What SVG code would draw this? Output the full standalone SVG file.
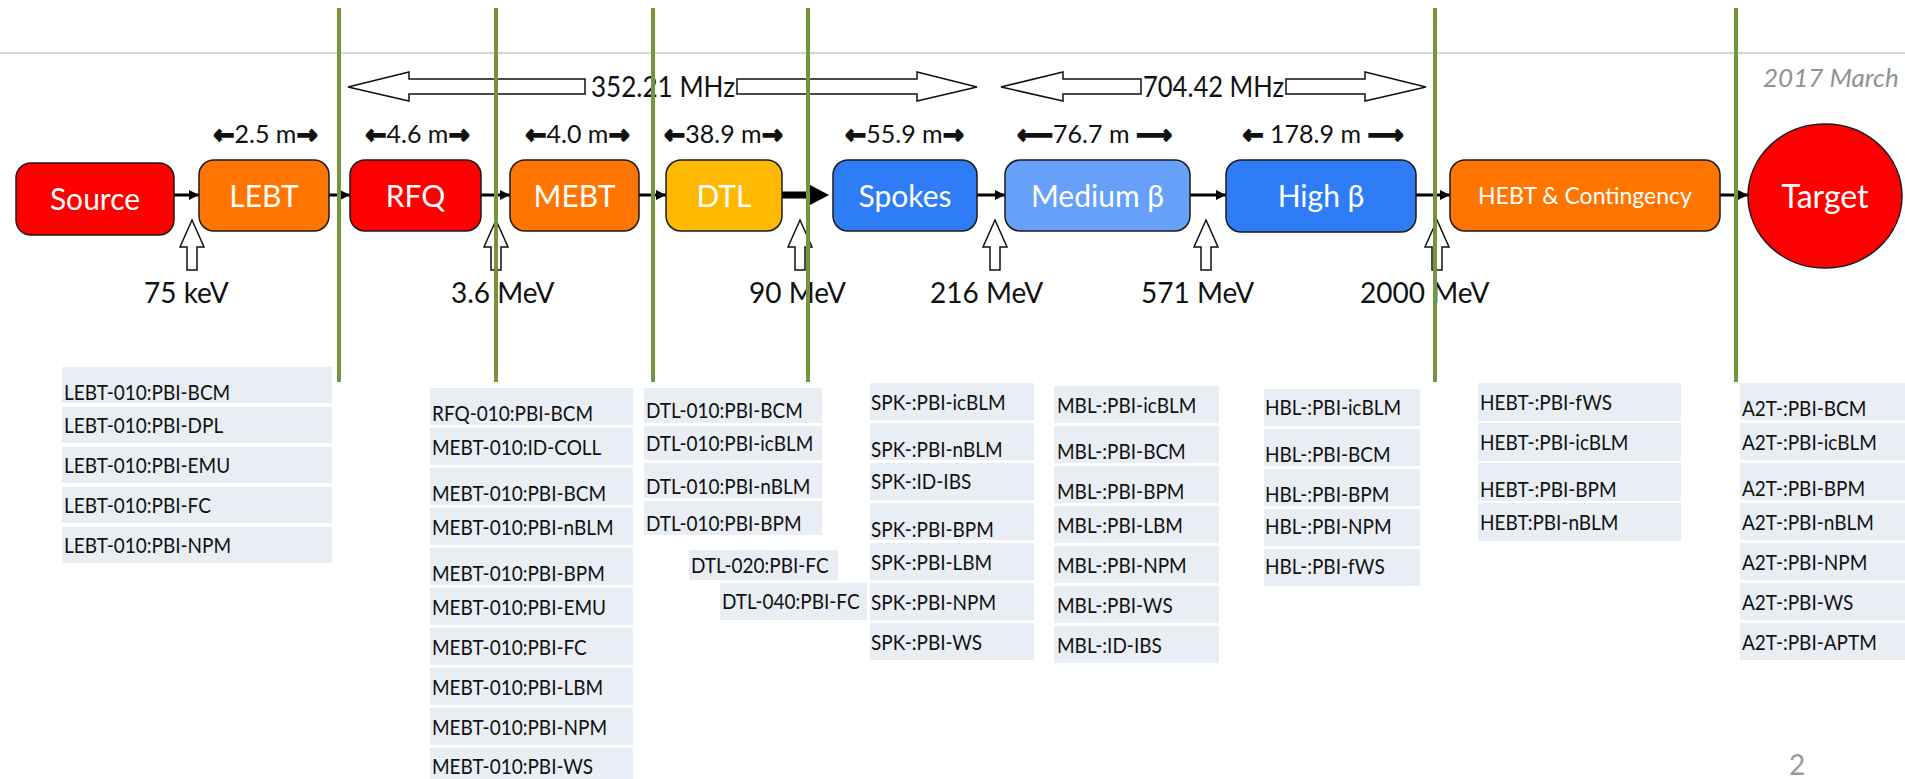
<svg xmlns="http://www.w3.org/2000/svg" width="1905" height="779" viewBox="0 0 1905 779">
<defs>
<style>
.box{stroke:#1a1a1a;stroke-width:1.5}
.bt{font-family:Lato,"Liberation Sans",sans-serif;fill:#fff;text-anchor:middle;font-size:30px}
.lbl{font-family:Lato,"Liberation Sans",sans-serif;fill:#111;font-size:28px}
.dim{font-family:Lato,"Liberation Sans",sans-serif;fill:#111;font-size:25px;text-anchor:middle}
.ar{font-family:"DejaVu Sans",sans-serif;font-weight:bold;stroke:#111;stroke-width:1.6}
.hollow{fill:#fff;stroke:#111;stroke-width:1.5}
.conn{stroke:#000;stroke-width:3;fill:none}
.cell{fill:#E9EDF4}
.ct{font-family:Lato,"Liberation Sans",sans-serif;fill:#111;font-size:19px;transform-box:fill-box;transform-origin:0 78%;transform:scaleY(1.12)}
.green{stroke:#77933C;stroke-width:4}
.red{fill:#FF0000}.orange{fill:#FF7500}.yellow{fill:#FFB900}.blue{fill:#2E7DF7}.lblue{fill:#66A0F8}
</style>
<marker id="ah" markerUnits="userSpaceOnUse" viewBox="0 0 10 10" refX="10" refY="5" markerWidth="10" markerHeight="10" orient="auto">
<path d="M0,0 L10,5 L0,10 z" fill="#000"/>
</marker>
</defs>
<rect width="1905" height="779" fill="#fff"/>
<line x1="0" y1="53" x2="1905" y2="53" stroke="#c8c8c8" stroke-width="1.5"/>
<text x="1763" y="87" font-family="Lato,'Liberation Sans',sans-serif" font-style="italic" font-size="26" fill="#8c9494">2017 March</text>
<text x="1789" y="775" font-family="Lato,'Liberation Sans',sans-serif" font-size="28" fill="#9a9a9a">2</text>

<!-- frequency arrows -->
<g id="freq352">
<polygon class="hollow" points="348,87 409,72 409,79 585,79 585,94 409,94 409,101"/>
<text class="lbl" x="591" y="97" textLength="144" lengthAdjust="spacingAndGlyphs">352.21 MHz</text>
<polygon class="hollow" points="977,87 917,72 917,79 737,79 737,94 917,94 917,101"/>
</g>
<g id="freq704">
<polygon class="hollow" points="1001,87 1063,72 1063,79 1141,79 1141,94 1063,94 1063,101"/>
<text class="lbl" x="1143" y="97" textLength="141" lengthAdjust="spacingAndGlyphs">704.42 MHz</text>
<polygon class="hollow" points="1426,87 1365,72 1365,79 1286,79 1286,94 1365,94 1365,101"/>
</g>

<!-- dimension labels -->
<g id="dims">
<text class="dim" x="265.5" y="143"><tspan class="ar">←</tspan>2.5 m<tspan class="ar">→</tspan></text>
<text class="dim" x="417.5" y="143"><tspan class="ar">←</tspan>4.6 m<tspan class="ar">→</tspan></text>
<text class="dim" x="577.5" y="143"><tspan class="ar">←</tspan>4.0 m<tspan class="ar">→</tspan></text>
<text class="dim" x="723.5" y="143"><tspan class="ar">←</tspan>38.9 m<tspan class="ar">→</tspan></text>
<text class="dim" x="904.5" y="143"><tspan class="ar">←</tspan>55.9 m<tspan class="ar">→</tspan></text>
<text class="dim" x="1094.5" y="143"><tspan class="ar">⟵</tspan>76.7 m <tspan class="ar">⟶</tspan></text>
<text class="dim" x="1323" y="143"><tspan class="ar">←</tspan> 178.9 m <tspan class="ar">⟶</tspan></text>
</g>

<!-- connectors -->
<g id="connectors">
<line class="conn" x1="174" y1="195" x2="199" y2="195" marker-end="url(#ah)"/>
<line class="conn" x1="329" y1="195" x2="350" y2="195" marker-end="url(#ah)"/>
<line class="conn" x1="481" y1="195" x2="510" y2="195" marker-end="url(#ah)"/>
<line class="conn" x1="639" y1="195" x2="666" y2="195" marker-end="url(#ah)"/>
<line x1="782" y1="195" x2="812" y2="195" stroke="#000" stroke-width="7"/>
<polygon points="810,185 829,195 810,205" fill="#000"/>
<line class="conn" x1="977" y1="195" x2="1005" y2="195" marker-end="url(#ah)"/>
<line class="conn" x1="1190" y1="195" x2="1226" y2="195" marker-end="url(#ah)"/>
<line class="conn" x1="1416" y1="195" x2="1450" y2="195" marker-end="url(#ah)"/>
<line class="conn" x1="1720" y1="195" x2="1748" y2="195" marker-end="url(#ah)"/>
</g>

<!-- nodes -->
<g id="source"><rect class="box red" x="16" y="163" width="158" height="72" rx="15"/><text class="bt" x="95" y="210">Source</text></g>
<g id="lebt"><rect class="box orange" x="199" y="160" width="130" height="71" rx="15"/><text class="bt" x="264" y="207">LEBT</text></g>
<g id="rfq"><rect class="box red" x="350" y="160" width="131" height="71" rx="15"/><text class="bt" x="415.5" y="207">RFQ</text></g>
<g id="mebt"><rect class="box orange" x="510" y="160" width="129" height="71" rx="15"/><text class="bt" x="574.5" y="207">MEBT</text></g>
<g id="dtl"><rect class="box yellow" x="666" y="160" width="116" height="71" rx="15"/><text class="bt" x="724" y="207">DTL</text></g>
<g id="spokes"><rect class="box blue" x="833" y="160" width="144" height="71" rx="15"/><text class="bt" x="905" y="207">Spokes</text></g>
<g id="medium"><rect class="box lblue" x="1005" y="160" width="185" height="71" rx="15"/><text class="bt" x="1097.5" y="207">Medium β</text></g>
<g id="high"><rect class="box blue" x="1226" y="160" width="190" height="72" rx="15"/><text class="bt" x="1321" y="207">High β</text></g>
<g id="hebt"><rect class="box orange" x="1450" y="160" width="270" height="71" rx="15"/><text class="bt" x="1585" y="204" style="font-size:23px">HEBT &amp; Contingency</text></g>
<g id="target"><ellipse class="box red" cx="1825" cy="196" rx="77" ry="72"/><text class="bt" x="1825" y="208" style="font-size:32px">Target</text></g>

<!-- energy markers -->
<g id="energies">
<polygon class="hollow" points="192,220 204,247 197,247 197,270 187,270 187,247 180,247"/>
<text class="lbl" x="144" y="303">75 keV</text>
<polygon class="hollow" points="496,220 508,247 501,247 501,270 491,270 491,247 484,247"/>
<text class="lbl" x="451" y="303">3.6 MeV</text>
<polygon class="hollow" points="800,220 812,247 805,247 805,270 795,270 795,247 788,247"/>
<text class="lbl" x="749" y="303">90 MeV</text>
<polygon class="hollow" points="995,220 1007,247 1000,247 1000,270 990,270 990,247 983,247"/>
<text class="lbl" x="930" y="303">216 MeV</text>
<polygon class="hollow" points="1206,220 1218,247 1211,247 1211,270 1201,270 1201,247 1194,247"/>
<text class="lbl" x="1141" y="303">571 MeV</text>
<polygon class="hollow" points="1437,220 1449,247 1442,247 1442,270 1432,270 1432,247 1425,247"/>
<text class="lbl" x="1360" y="303">2000 MeV</text>
</g>

<!-- device tables -->
<g id="lebt-list">
<rect class="cell" x="62" y="367" width="270" height="36"/><text class="ct" x="64" y="400">LEBT-010:PBI-BCM</text>
<rect class="cell" x="62" y="407" width="270" height="36"/><text class="ct" x="64" y="433">LEBT-010:PBI-DPL</text>
<rect class="cell" x="62" y="447" width="270" height="36"/><text class="ct" x="64" y="473">LEBT-010:PBI-EMU</text>
<rect class="cell" x="62" y="487" width="270" height="36"/><text class="ct" x="64" y="513">LEBT-010:PBI-FC</text>
<rect class="cell" x="62" y="527" width="270" height="36"/><text class="ct" x="64" y="553">LEBT-010:PBI-NPM</text>
</g>
<g id="mebt-list">
<rect class="cell" x="430" y="388" width="203" height="37"/><text class="ct" x="432" y="421">RFQ-010:PBI-BCM</text>
<rect class="cell" x="430" y="428" width="203" height="37"/><text class="ct" x="432" y="455">MEBT-010:ID-COLL</text>
<rect class="cell" x="430" y="468" width="203" height="37"/><text class="ct" x="432" y="501">MEBT-010:PBI-BCM</text>
<rect class="cell" x="430" y="508" width="203" height="37"/><text class="ct" x="432" y="535">MEBT-010:PBI-nBLM</text>
<rect class="cell" x="430" y="548" width="203" height="37"/><text class="ct" x="432" y="581">MEBT-010:PBI-BPM</text>
<rect class="cell" x="430" y="588" width="203" height="37"/><text class="ct" x="432" y="615">MEBT-010:PBI-EMU</text>
<rect class="cell" x="430" y="628" width="203" height="37"/><text class="ct" x="432" y="655">MEBT-010:PBI-FC</text>
<rect class="cell" x="430" y="668" width="203" height="37"/><text class="ct" x="432" y="695">MEBT-010:PBI-LBM</text>
<rect class="cell" x="430" y="708" width="203" height="37"/><text class="ct" x="432" y="735">MEBT-010:PBI-NPM</text>
<rect class="cell" x="430" y="748" width="203" height="31"/><text class="ct" x="432" y="774">MEBT-010:PBI-WS</text>
</g>
<g id="dtl-list">
<rect class="cell" x="644" y="388" width="178" height="35"/><text class="ct" x="646" y="418">DTL-010:PBI-BCM</text>
<rect class="cell" x="644" y="426" width="178" height="34"/><text class="ct" x="646" y="451">DTL-010:PBI-icBLM</text>
<rect class="cell" x="644" y="463" width="178" height="35"/><text class="ct" x="646" y="494">DTL-010:PBI-nBLM</text>
<rect class="cell" x="644" y="501" width="178" height="34"/><text class="ct" x="646" y="531">DTL-010:PBI-BPM</text>
<rect class="cell" x="689" y="550" width="149" height="30"/><text class="ct" x="691" y="573">DTL-020:PBI-FC</text>
<rect class="cell" x="720" y="583" width="147" height="37"/><text class="ct" x="722" y="609">DTL-040:PBI-FC</text>
</g>
<g id="spk-list">
<rect class="cell" x="870" y="383" width="164" height="37"/><text class="ct" x="871" y="410">SPK-:PBI-icBLM</text>
<rect class="cell" x="870" y="423" width="164" height="37"/><text class="ct" x="871" y="457">SPK-:PBI-nBLM</text>
<rect class="cell" x="870" y="463" width="164" height="37"/><text class="ct" x="871" y="489">SPK-:ID-IBS</text>
<rect class="cell" x="870" y="503" width="164" height="37"/><text class="ct" x="871" y="537">SPK-:PBI-BPM</text>
<rect class="cell" x="870" y="543" width="164" height="37"/><text class="ct" x="871" y="570">SPK-:PBI-LBM</text>
<rect class="cell" x="870" y="583" width="164" height="37"/><text class="ct" x="871" y="610">SPK-:PBI-NPM</text>
<rect class="cell" x="870" y="623" width="164" height="37"/><text class="ct" x="871" y="650">SPK-:PBI-WS</text>
</g>
<g id="mbl-list">
<rect class="cell" x="1054" y="386" width="165" height="37"/><text class="ct" x="1057" y="413">MBL-:PBI-icBLM</text>
<rect class="cell" x="1054" y="426" width="165" height="37"/><text class="ct" x="1057" y="459">MBL-:PBI-BCM</text>
<rect class="cell" x="1054" y="466" width="165" height="37"/><text class="ct" x="1057" y="499">MBL-:PBI-BPM</text>
<rect class="cell" x="1054" y="506" width="165" height="37"/><text class="ct" x="1057" y="533">MBL-:PBI-LBM</text>
<rect class="cell" x="1054" y="546" width="165" height="37"/><text class="ct" x="1057" y="573">MBL-:PBI-NPM</text>
<rect class="cell" x="1054" y="586" width="165" height="37"/><text class="ct" x="1057" y="613">MBL-:PBI-WS</text>
<rect class="cell" x="1054" y="626" width="165" height="37"/><text class="ct" x="1057" y="653">MBL-:ID-IBS</text>
</g>
<g id="hbl-list">
<rect class="cell" x="1264" y="389" width="156" height="37"/><text class="ct" x="1265" y="415">HBL-:PBI-icBLM</text>
<rect class="cell" x="1264" y="429" width="156" height="37"/><text class="ct" x="1265" y="462">HBL-:PBI-BCM</text>
<rect class="cell" x="1264" y="469" width="156" height="37"/><text class="ct" x="1265" y="502">HBL-:PBI-BPM</text>
<rect class="cell" x="1264" y="509" width="156" height="37"/><text class="ct" x="1265" y="534">HBL-:PBI-NPM</text>
<rect class="cell" x="1264" y="549" width="156" height="37"/><text class="ct" x="1265" y="574">HBL-:PBI-fWS</text>
</g>
<g id="hebt-list">
<rect class="cell" x="1478" y="383" width="203" height="38"/><text class="ct" x="1480" y="410">HEBT-:PBI-fWS</text>
<rect class="cell" x="1478" y="423" width="203" height="38"/><text class="ct" x="1480" y="450">HEBT-:PBI-icBLM</text>
<rect class="cell" x="1478" y="463" width="203" height="38"/><text class="ct" x="1480" y="497">HEBT-:PBI-BPM</text>
<rect class="cell" x="1478" y="503" width="203" height="38"/><text class="ct" x="1480" y="530">HEBT:PBI-nBLM</text>
</g>
<g id="a2t-list">
<rect class="cell" x="1740" y="383" width="165" height="37"/><text class="ct" x="1742" y="416">A2T-:PBI-BCM</text>
<rect class="cell" x="1740" y="423" width="165" height="37"/><text class="ct" x="1742" y="450">A2T-:PBI-icBLM</text>
<rect class="cell" x="1740" y="463" width="165" height="37"/><text class="ct" x="1742" y="496">A2T-:PBI-BPM</text>
<rect class="cell" x="1740" y="503" width="165" height="37"/><text class="ct" x="1742" y="530">A2T-:PBI-nBLM</text>
<rect class="cell" x="1740" y="543" width="165" height="37"/><text class="ct" x="1742" y="570">A2T-:PBI-NPM</text>
<rect class="cell" x="1740" y="583" width="165" height="37"/><text class="ct" x="1742" y="610">A2T-:PBI-WS</text>
<rect class="cell" x="1740" y="623" width="165" height="37"/><text class="ct" x="1742" y="650">A2T-:PBI-APTM</text>
</g>

<!-- section dividers -->
<g id="dividers">
<line class="green" x1="339" y1="8" x2="339" y2="382"/>
<line class="green" x1="496" y1="8" x2="496" y2="382"/>
<line class="green" x1="653" y1="8" x2="653" y2="382"/>
<line class="green" x1="808" y1="8" x2="808" y2="382"/>
<line class="green" x1="1435" y1="8" x2="1435" y2="382"/>
<line class="green" x1="1736" y1="8" x2="1736" y2="382"/>
</g>
</svg>
